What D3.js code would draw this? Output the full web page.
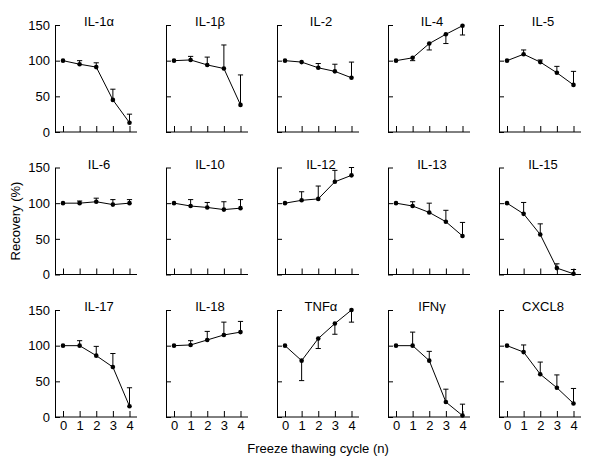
<!DOCTYPE html>
<html><head><meta charset="utf-8">
<script src="https://cdn.jsdelivr.net/npm/d3@7"></script>
<style>body{margin:0;background:#fff}svg{display:block}text{font-family:"Liberation Sans",Arial,sans-serif;fill:#000}</style>
</head><body>
<svg id="c" width="600" height="466"></svg>
<script>
const cytokines = ["IL-1α","IL-1β","IL-2","IL-4","IL-5","IL-6","IL-10","IL-12","IL-13","IL-15","IL-17","IL-18","TNFα","IFNγ","CXCL8"];
const cycles = [0,1,2,3,4];
const yTicks = [0,50,100,150];
// mean recovery (%) per cycle
const meanIL1a = [100,95,91,45,13];
const meanIL1b = [100,101,94,89,38];
const meanIL2  = [100,98,90,85,76];
const meanIL4  = [100,104,124,137,149];
const meanIL5  = [100,109,98,83,66];
const meanIL6  = [100,100,102,98,100];
const meanIL10 = [100,96,94,91,93];
const meanIL12 = [100,104,106,130,139];
const meanIL13 = [100,96,87,74,54];
const meanIL15 = [100,85,56,9,1];
const meanIL17 = [100,100,86,70,15];
const meanIL18 = [100,101,108,115,119];
const meanTNFa = [100,79,110,131,150];
const meanIFNg = [100,100,79,21,2];
const meanCXCL8= [100,91,60,41,19];
// one-sided error bars (positive = drawn upward, negative = drawn downward)
const errIL1a = [0,5,6,15,12];
const errIL1b = [0,5,11,33,42];
const errIL2  = [0,0,6,10,22];
const errIL4  = [0,-4,-9,-13,-13];
const errIL5  = [0,6,3,9,19];
const errIL6  = [0,3,5,7,5];
const errIL10 = [0,9,7,11,12];
const errIL12 = [0,12,18,16,11];
const errIL13 = [0,6,13,16,19];
const errIL15 = [0,16,15,6,6];
const errIL17 = [0,7,13,19,26];
const errIL18 = [0,6,12,18,15];
const errTNFa = [0,-28,-14,-15,-17];
const errIFNg = [0,19,13,18,16];
const errCXCL8= [0,10,17,18,21];

const means = [meanIL1a,meanIL1b,meanIL2,meanIL4,meanIL5,meanIL6,meanIL10,meanIL12,meanIL13,meanIL15,meanIL17,meanIL18,meanTNFa,meanIFNg,meanCXCL8];
const errs  = [errIL1a,errIL1b,errIL2,errIL4,errIL5,errIL6,errIL10,errIL12,errIL13,errIL15,errIL17,errIL18,errTNFa,errIFNg,errCXCL8];

const svg = d3.select("#c");
const colX = [55,166,277,388,499];
const rowTop = [25,167.5,310];
const ph = 107, axisLen = 82;
const x = d3.scaleLinear().domain([0,4]).range([8,74.5]);
const y = d3.scaleLinear().domain([0,150]).range([ph,0]);

cytokines.forEach((name,i)=>{
  const r = Math.floor(i/5), c = i%5;
  const g = svg.append("g").attr("transform",`translate(${colX[c]},${rowTop[r]})`);
  // y axis
  const ya = d3.axisLeft(y).tickValues(yTicks).tickSizeInner(-5).tickSizeOuter(0).tickPadding(5)
    .tickFormat(c===0 ? d3.format("d") : "");
  const yg = g.append("g").call(ya);
  yg.selectAll("line,path").attr("stroke","#000").attr("stroke-width",1);
  yg.selectAll("text").style("font-size","13px").style("font-family",'"Liberation Sans",Arial,sans-serif');
  // x axis
  const xa = d3.axisBottom(x).tickValues(cycles).tickSizeInner(-6).tickSizeOuter(0).tickPadding(4)
    .tickFormat(r===2 ? d3.format("d") : "");
  const xg = g.append("g").attr("transform",`translate(0,${ph})`).call(xa);
  xg.select("path.domain").attr("d",`M0,0H${axisLen}`);
  xg.selectAll("line,path").attr("stroke","#000").attr("stroke-width",1);
  xg.selectAll("text").style("font-size","13px").style("font-family",'"Liberation Sans",Arial,sans-serif');
  // title
  g.append("text").attr("x",44).attr("y",1).attr("text-anchor","middle")
    .style("font-size","13px").text(name);
  const pts = cycles.map((k,j)=>({k, v:means[i][j], e:errs[i][j]}));
  // error bars
  const eb = g.append("g").attr("stroke","#000").attr("stroke-width",1);
  pts.filter(p=>p.e!==0).forEach(p=>{
    eb.append("line").attr("x1",x(p.k)).attr("x2",x(p.k)).attr("y1",y(p.v)).attr("y2",y(p.v+p.e));
    eb.append("line").attr("x1",x(p.k)-2.6).attr("x2",x(p.k)+2.6).attr("y1",y(p.v+p.e)).attr("y2",y(p.v+p.e));
  });
  // line
  g.append("path").datum(pts).attr("fill","none").attr("stroke","#000").attr("stroke-width",1)
    .attr("d",d3.line().x(p=>x(p.k)).y(p=>y(p.v)));
  g.selectAll("circle").data(pts).join("circle").attr("cx",p=>x(p.k)).attr("cy",p=>y(p.v)).attr("r",2.3).attr("fill","#000");
});

svg.append("text").attr("x",318).attr("y",453).attr("text-anchor","middle").style("font-size","13px").text("Freeze thawing cycle (n)");
svg.append("text").attr("transform","translate(20,221) rotate(-90)").attr("text-anchor","middle").style("font-size","13px").text("Recovery (%)");
</script>
</body></html>
